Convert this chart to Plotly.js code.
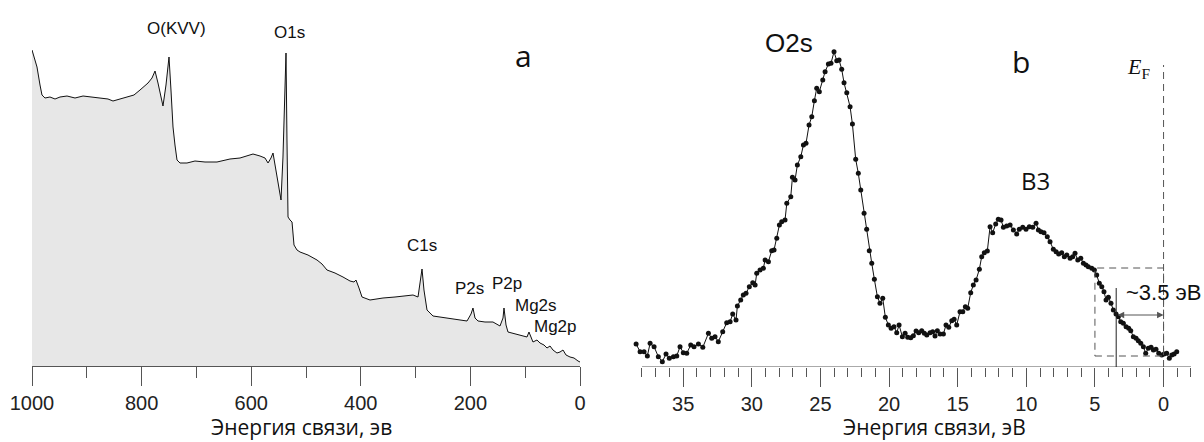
<!DOCTYPE html>
<html><head><meta charset="utf-8">
<script src="https://cdn.plot.ly/plotly-3.0.1.min.js"></script>
<style>html,body{margin:0;padding:0;background:#fff}#chart{width:1204px;height:442px}</style>
</head><body><div id="chart"></div>
<script>
// ---- Panel a: survey spectrum (binding energy, eV ; intensity, a.u.) ----
const surveyE = [1000,990.9,985.4,981.8,976.3,967.2,958.0,948.9,936.1,921.5,906.9,888.7,875.9,861.3,852.2,839.4,826.6,813.9,802.9,793.8,788.3,781.0,775.5,770.1,764.6,761.0,755.5,750.0,746.4,742.7,739.1,735.4,729.9,717.2,702.6,684.3,662.4,638.7,620.4,596.7,583.9,574.8,569.3,563.9,560.2,554.7,549.3,545.6,542.0,538.3,536.5,534.7,532.8,529.2,525.5,521.9,516.4,510.9,496.4,479.9,470.8,461.7,447.1,432.5,419.7,412.4,408.8,403.3,397.8,383.2,359.5,337.6,319.3,304.7,295.6,291.9,288.3,284.7,279.2,268.2,246.4,228.1,206.2,198.9,195.3,191.6,186.1,173.4,158.8,146.0,140.5,138.7,135.0,131.4,118.6,105.8,96.7,93.1,89.4,85.8,78.5,73.0,65.7,60.2,54.7,49.3,42.0,36.5,31.0,25.5,18.2,10.9,3.6,0];
const surveyI = [316,299,281,271,268,269,267,269,270,268,270,269,268,267,265,267,269,271,276,280,283,288,295,283,268,260,281,309,276,239,221,206,203,203,205,204,204,207,208,212,210,208,203,208,213,196,176,166,209,293,313,226,149,146,144,121,116,114,111,106,102,96,93,89,85,84,86,78,69,66,68,69,70,71,69,81,97,76,56,50,48,47,45,52,58,48,45,44,44,40,48,58,41,34,32,30,29,34,28,24,26,23,21,18,20,16,13,14,16,11,9,8,5,4];
const surveyTicks = [0,200,400,600,800,1000];
const surveyPeaks = ["O(KVV)","O1s","C1s","P2s","P2p","Mg2s","Mg2p"];

// ---- Panel b: valence band (binding energy, eV ; intensity, a.u.) ----
const vbE = [38.43,38.14,37.85,37.61,37.41,37.12,36.81,36.52,36.25,36.01,35.71,35.47,35.23,34.99,34.74,34.45,34.21,33.89,33.57,33.16,32.92,32.68,32.44,32.12,31.83,31.58,31.39,31.15,31.05,30.81,30.62,30.42,30.18,29.93,29.76,29.64,29.40,29.16,29.03,28.79,28.55,28.38,28.18,27.99,27.82,27.58,27.45,27.16,27.04,26.85,26.68,26.43,26.24,26.05,25.83,25.63,25.44,25.27,25.08,24.83,24.66,24.42,
24.23,24.01,23.81,23.64,23.45,23.28,23.08,22.84,22.67,22.43,22.24,22.06,21.82,21.63,21.44,21.26,21.07,20.85,20.66,20.46,20.27,20.05,19.85,19.64,19.44,19.27,19.03,18.83,18.64,18.42,18.23,18.03,17.84,17.62,17.43,17.25,17.01,16.82,16.65,16.48,16.28,16.04,15.85,15.65,15.43,15.26,15.07,14.83,14.63,14.44,14.27,14.05,13.86,13.66,13.42,13.25,13.06,12.84,12.64,12.45,12.23,12.04,11.84,11.67,
11.43,11.18,10.94,10.70,10.51,10.26,10.02,9.78,9.53,9.29,9.12,8.93,8.71,8.47,8.27,8.03,7.83,7.64,7.42,7.23,7.05,6.81,6.62,6.45,6.25,6.03,5.84,5.65,5.48,5.23,5.04,4.87,4.68,4.50,4.34,4.19,4.02,3.83,3.66,3.46,3.29,3.12,2.93,2.73,2.54,2.39,2.20,2.00,1.84,1.66,1.47,1.30,1.11,0.91,0.74,0.55,0.35,0.13,-0.04,-0.23,-0.42,-0.60,-0.77,-0.96];
const vbI = [23,15.3,15.3,11,23.7,20.3,10.3,5.3,13,8.7,10.3,11,20.3,14.3,13.7,22,20.3,23,19.7,33.7,28.7,30.3,25.3,35.3,44.3,45.3,53,47,61,67,72,73.7,80.3,84.3,82,93.7,97,98.7,107,105.3,116.3,117,128.7,142,145.3,147,163.7,170.3,189.7,187,202,210.3,222,223.7,242,250.3,266.3,278.7,275.3,287,295.3,303,
303.7,315.3,306.3,307,297.7,284.3,274.3,260.3,243,207.7,193.7,177,153.7,137.7,116.3,103.7,87.7,70.3,63.7,68.7,49.7,42,38.7,40.3,34.3,42,30.3,33.7,29.7,29.3,31.3,36,34.3,36.3,33.7,32,34.3,35.3,31,36.3,33,33,42,39.7,46.3,47.7,42,55.3,55.3,60.3,58.7,74.3,82,87,97.7,110.3,114.3,116,140.3,134.3,143,147.7,147,139.7,
141,142,137,133,137.7,139.7,137.7,140.3,139.7,143.7,137,135.3,134.3,130.3,125.3,117.7,115.3,113,114.3,110.3,112,108.7,110.3,113.7,107,108.7,103.7,102,100.3,98.7,97,92,83.7,80.3,75.3,67,69.7,63.7,57,53,50.3,45.3,43.7,40.3,38.7,36.3,30.3,28.7,26.3,23.7,20.3,13.7,18.7,19.7,17,17.7,13.7,12,13,13.7,8.7,12,13,15.3];
const vbTicks = [0,5,10,15,20,25,30,35];
const vbLabels = ["O2s","B3"];
const gapText = "~3.5 эВ";
const xTitleA = "Энергия связи, эв";
const xTitleB = "Энергия связи, эВ";

const W = 1204, H = 442;
const px = v => v / W, py = v => 1 - v / H;

const traces = [
  {x: surveyE, y: surveyI, xaxis: 'x', yaxis: 'y', type: 'scatter', mode: 'lines',
   line: {color: '#111', width: 1}, fill: 'tozeroy', fillcolor: '#e7e7e7', hoverinfo: 'skip'},
  {x: vbE, y: vbI, xaxis: 'x2', yaxis: 'y2', type: 'scatter', mode: 'lines+markers',
   line: {color: '#111', width: 1}, marker: {color: '#111', size: 5}, cliponaxis: false, hoverinfo: 'skip'}
];

const tickFont = {family: 'Liberation Sans, Arial, sans-serif', size: 20, color: '#222'};
const lab = (t, x, y, size, fam) => ({text: t, x: px(x), y: py(y), xref: 'paper', yref: 'paper',
  showarrow: false, xanchor: 'center', yanchor: 'middle',
  font: {family: fam || 'Liberation Sans, Arial, sans-serif', size: size || 17, color: '#111'}});

const layout = {
  width: W, height: H, margin: {l: 0, r: 0, t: 0, b: 0},
  paper_bgcolor: '#fff', plot_bgcolor: 'rgba(0,0,0,0)', showlegend: false,
  xaxis: {domain: [px(32), px(580)], range: [1000, 0], anchor: 'y', showgrid: false, zeroline: false,
    showline: true, linecolor: '#555', linewidth: 1,
    ticks: 'outside', ticklen: 19, tickwidth: 1, tickcolor: '#555', tickvals: surveyTicks, tickfont: tickFont,
    minor: {dtick: 100, tick0: 0, ticks: 'outside', ticklen: 11, tickwidth: 1, tickcolor: '#555', showgrid: false}},
  yaxis: {domain: [1 - 366 / H, 1 - 40 / H], range: [0, 326], anchor: 'x', visible: false},
  xaxis2: {domain: [px(1191 - 40.5 * 13.725), px(1191)], range: [38.5, -2], anchor: 'y2', showgrid: false, zeroline: false,
    showline: false,
    ticks: 'outside', ticklen: 19, tickwidth: 1, tickcolor: '#555', tickvals: vbTicks, tickfont: tickFont,
    minor: {dtick: 1, tick0: 0, ticks: 'outside', ticklen: 9, tickwidth: 1, tickcolor: '#555', showgrid: false}},
  yaxis2: {domain: [1 - 367 / H, 1 - 40 / H], range: [0, 327], anchor: 'x2', visible: false},
  shapes: [
    {type: 'line', xref: 'x2', yref: 'y2', x0: 38, x1: -2, y0: 0, y1: 0, line: {color: '#555', width: 1}},
    {type: 'line', xref: 'x2', yref: 'y2', x0: 0, x1: 0, y0: 0, y1: 302, line: {color: '#555', width: 1, dash: '7px,5px'}},
    {type: 'rect', xref: 'x2', yref: 'y2', x0: 5, x1: 0, y0: 11, y1: 99, line: {color: '#555', width: 1, dash: '7px,5px'}},
    {type: 'line', xref: 'x2', yref: 'y2', x0: 3.45, x1: 3.45, y0: 0, y1: 79, line: {color: '#222', width: 1}}
  ],
  annotations: [
    lab(surveyPeaks[0], 176, 28), lab(surveyPeaks[1], 289, 33),
    lab(surveyPeaks[2], 422, 245), lab(surveyPeaks[3], 469, 288), lab(surveyPeaks[4], 507, 283),
    lab(surveyPeaks[5], 536, 305), lab(surveyPeaks[6], 555, 326),
    lab('a', 523, 55, 30, 'Open Sans, sans-serif'),
    lab(vbLabels[0], 789, 43, 26),
    lab('b', 1021, 62, 30, 'Open Sans, sans-serif'),
    lab(vbLabels[1], 1035, 180, 24, 'Open Sans, sans-serif'),
    lab('<i>E</i><sub>F</sub>', 1138, 68, 22, 'Liberation Serif, serif'),
    lab(gapText, 1163, 292, 22),
    lab(xTitleA, 301, 427, 21, 'Open Sans, sans-serif'),
    lab(xTitleB, 935, 427, 21, 'Open Sans, sans-serif'),
    {x: 0, y: 52, ax: 3.45, ay: 52, xref: 'x2', yref: 'y2', axref: 'x2', ayref: 'y2', text: '',
     showarrow: true, arrowside: 'end+start', arrowhead: 2, arrowsize: 1.3, arrowwidth: 1, arrowcolor: '#555'}
  ]
};

Plotly.newPlot('chart', traces, layout, {staticPlot: true, displayModeBar: false});
</script></body></html>
